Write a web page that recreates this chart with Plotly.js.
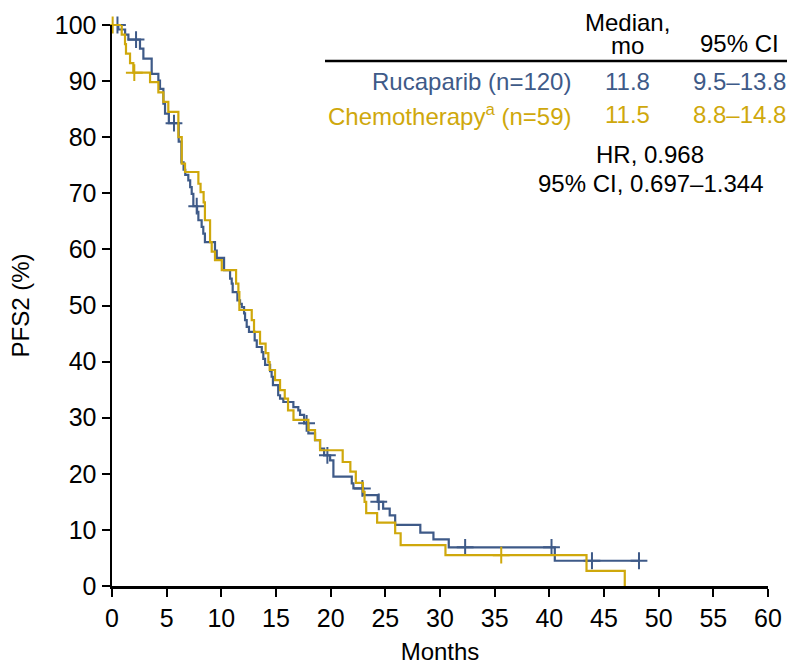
<!DOCTYPE html>
<html>
<head>
<meta charset="utf-8">
<script src="https://cdn.plot.ly/plotly-3.0.1.min.js"></script>
<style>html,body{margin:0;padding:0;background:#fff;}</style>
</head>
<body>
<div id="chart" style="width:787px;height:665px;"></div>
<script>
// Rucaparib KM step points (months, % PFS2)
const rucaTime = [0, 0.58, 1.2, 1.5, 2.56, 2.87, 3.63, 4.24, 4.39, 4.7, 4.85, 5.2, 6.1, 6.35, 6.55, 6.7, 6.98, 7.15, 7.29, 7.44, 7.78, 7.9, 8.2, 8.35, 8.5, 9.42, 9.58, 10.25, 10.8, 10.95, 11.04, 11.47, 11.71, 11.87, 12.08, 12.17, 12.32, 12.53, 13.05, 13.24, 13.7, 13.84, 14.0, 14.46, 14.6, 14.72, 15.2, 15.37, 15.67, 16.59, 17.04, 17.2, 17.57, 17.96, 18.57, 19.03, 19.4, 19.95, 20.25, 21.93, 22.08, 22.99, 24.3, 24.8, 25.4, 25.9, 28.2, 29.4, 30.8, 40.5, 48.2];
const rucaSurv = [100, 99.2, 98.3, 97.4, 95.8, 94.0, 91.3, 90.1, 88.6, 86.0, 84.2, 82.5, 79.2, 75.5, 74.2, 73.3, 72.3, 71.1, 69.9, 67.7, 66.7, 65.2, 64.0, 62.8, 61.3, 59.8, 58.5, 56.3, 54.8, 53.9, 52.4, 50.9, 50.3, 49.7, 48.6, 47.4, 46.2, 45.3, 43.8, 42.6, 41.7, 40.5, 39.4, 38.3, 37.3, 35.8, 34.0, 33.4, 32.8, 31.9, 31.3, 30.5, 29.0, 27.2, 26.0, 24.5, 23.3, 22.4, 19.5, 18.3, 17.4, 16.2, 15.0, 13.8, 12.6, 10.9, 9.5, 8.3, 6.9, 4.5, 4.5];
const rucaCensTime = [0.5, 2.2, 5.67, 7.75, 17.8, 19.7, 22.9, 24.4, 32.3, 40.2, 43.9, 48.2];
const rucaCensSurv = [100, 97.4, 82.5, 67.7, 29.0, 23.3, 17.4, 15.0, 6.9, 6.9, 4.5, 4.5];

// Chemotherapy KM step points
const chemoTime = [0, 0.89, 1.19, 1.28, 1.65, 1.95, 3.48, 4.24, 4.7, 5.15, 6.07, 6.38, 6.68, 7.9, 8.1, 8.38, 8.5, 8.97, 9.12, 9.42, 10.04, 11.35, 11.56, 11.65, 12.78, 12.99, 13.54, 14.05, 14.3, 14.42, 14.91, 15.37, 15.8, 16.1, 16.6, 17.96, 18.57, 19.03, 21.1, 21.8, 22.3, 22.95, 23.1, 23.25, 24.25, 25.9, 26.4, 30.5, 43.4, 46.9];
const chemoSurv = [100, 98.3, 96.6, 94.9, 93.2, 91.5, 89.8, 88.0, 86.3, 84.5, 80.0, 75.3, 73.8, 71.7, 70.2, 68.4, 65.2, 61.3, 59.6, 58.1, 56.3, 53.9, 52.4, 49.2, 47.4, 45.3, 43.2, 41.5, 39.9, 38.5, 36.7, 34.9, 33.4, 31.3, 29.6, 27.8, 26.0, 24.2, 22.1, 20.4, 18.4, 16.8, 15.0, 13.0, 11.3, 9.4, 7.3, 5.5, 2.7, 0];
const chemoCensTime = [0.06, 2.04, 35.6];
const chemoCensSurv = [100, 91.5, 5.5];

const xTicks = [0, 5, 10, 15, 20, 25, 30, 35, 40, 45, 50, 55, 60];
const yTicks = [0, 10, 20, 30, 40, 50, 60, 70, 80, 90, 100];

const tableRows = ['Rucaparib (n=120)', 'Chemotherapy<sup>a</sup> (n=59)'];
const tableMedians = ['11.8', '11.5'];
const tableCIs = ['9.5–13.8', '8.8–14.8'];
const hrLines = ['HR, 0.968', '95% CI, 0.697–1.344'];

const BLUE = '#3E5A88';
const GOLD = '#CFA80C';
const FONT = 'Liberation Sans, Arial, Helvetica, sans-serif';

const traces = [
  {x: rucaTime, y: rucaSurv, mode: 'lines', line: {shape: 'hv', color: BLUE, width: 2.2}, cliponaxis: false, showlegend: false, hoverinfo: 'skip'},
  {x: rucaCensTime, y: rucaCensSurv, mode: 'markers', marker: {symbol: 'cross-thin', size: 12, line: {color: BLUE, width: 2}}, cliponaxis: false, showlegend: false},
  {x: chemoTime, y: chemoSurv, mode: 'lines', line: {shape: 'hv', color: GOLD, width: 2.2}, cliponaxis: false, showlegend: false, hoverinfo: 'skip'},
  {x: chemoCensTime, y: chemoCensSurv, mode: 'markers', marker: {symbol: 'cross-thin', size: 12, line: {color: GOLD, width: 2}}, cliponaxis: false, showlegend: false}
];

function px2x(px) { return (px - 112) / 656; }
function py2y(py) { return (586 - py) / 561; }

function ann(text, px, py, xanchor, color) {
  return {text: text, x: px2x(px), y: py2y(py), xref: 'paper', yref: 'paper',
    xanchor: xanchor, yanchor: 'middle', showarrow: false,
    font: {family: FONT, size: 24, color: color || '#000'}};
}

const rowColors = [BLUE, GOLD];
const rowY = [82, 115];
const annotations = [
  ann('Median,', 627.5, 23, 'center'),
  ann('mo', 627.5, 45, 'center'),
  ann('95% CI', 781, 44, 'right')
];
for (let i = 0; i < tableRows.length; i++) {
  annotations.push(ann(tableRows[i], 573, rowY[i], 'right', rowColors[i]));
  annotations.push(ann(tableMedians[i], 627.5, rowY[i], 'center', rowColors[i]));
  annotations.push(ann(tableCIs[i], 788, rowY[i], 'right', rowColors[i]));
}
annotations.push(ann(hrLines[0], 650, 155, 'center'));
annotations.push(ann(hrLines[1], 650.5, 183, 'center'));

const layout = {
  width: 787, height: 665,
  margin: {l: 112, r: 19, t: 25, b: 79, pad: 0},
  paper_bgcolor: '#fff', plot_bgcolor: '#fff',
  font: {family: FONT, size: 24, color: '#000'},
  xaxis: {
    range: [0, 60], tickvals: xTicks, ticktext: xTicks.map(String),
    ticks: 'outside', ticklen: 8, tickwidth: 2, tickcolor: '#000',
    showline: true, linewidth: 2.5, linecolor: '#000', showgrid: false, zeroline: false,
    tickfont: {family: FONT, size: 25, color: '#000'},
    title: {text: 'Months', font: {family: FONT, size: 24, color: '#000'}, standoff: 15}
  },
  yaxis: {
    range: [0, 100], tickvals: yTicks, ticktext: yTicks.map(String),
    ticks: 'outside', ticklen: 8, tickwidth: 2, tickcolor: '#000',
    showline: true, linewidth: 2.5, linecolor: '#000', showgrid: false, zeroline: false,
    tickfont: {family: FONT, size: 25, color: '#000'},
    title: {text: 'PFS2 (%)', font: {family: FONT, size: 24, color: '#000'}, standoff: 19}
  },
  shapes: [{type: 'line', xref: 'paper', yref: 'paper', x0: px2x(325), x1: px2x(787), y0: py2y(61), y1: py2y(61), line: {color: '#000', width: 2.5}}],
  annotations: annotations
};

Plotly.newPlot('chart', traces, layout, {displayModeBar: false, staticPlot: true});
</script>
</body>
</html>
